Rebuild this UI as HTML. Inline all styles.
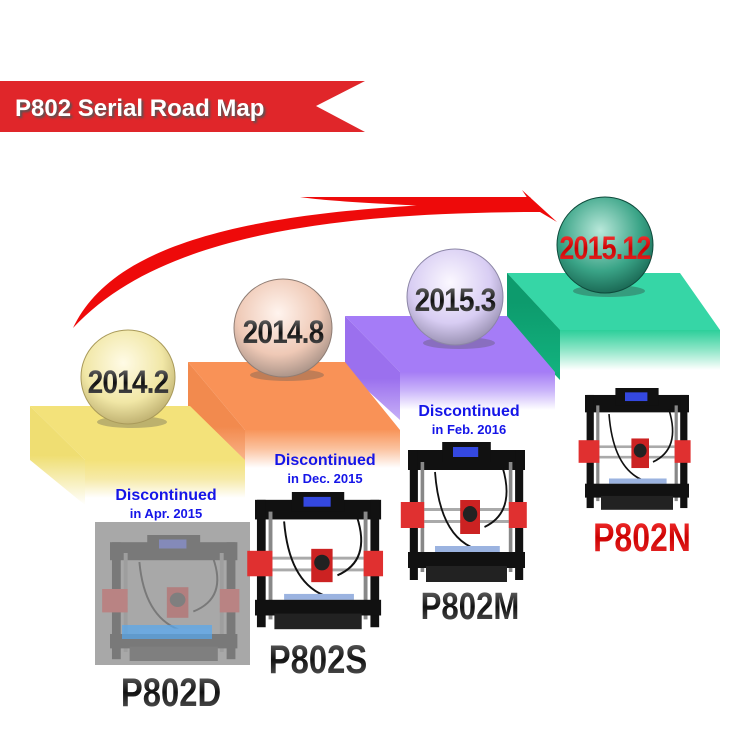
<!DOCTYPE html>
<html><head><meta charset="utf-8"><style>
html,body{margin:0;padding:0;background:#fff}
svg{display:block}
</style></head><body>
<svg width="750" height="750" viewBox="0 0 750 750" xmlns="http://www.w3.org/2000/svg">
<defs>
<linearGradient id="fy" x1="0" y1="0" x2="0" y2="1"><stop offset="0" stop-color="#f3e27a"/><stop offset="0.5" stop-color="#f6eaa8"/><stop offset="1" stop-color="#fff"/></linearGradient>
<linearGradient id="fo" x1="0" y1="0" x2="0" y2="1"><stop offset="0" stop-color="#f8955a"/><stop offset="0.5" stop-color="#fbc3a0"/><stop offset="1" stop-color="#fff"/></linearGradient>
<linearGradient id="fp" x1="0" y1="0" x2="0" y2="1"><stop offset="0" stop-color="#a57df5"/><stop offset="0.5" stop-color="#cbb6fa"/><stop offset="1" stop-color="#fff"/></linearGradient>
<linearGradient id="fg" x1="0" y1="0" x2="0" y2="1"><stop offset="0" stop-color="#2ccf9a"/><stop offset="0.5" stop-color="#8fe6c8"/><stop offset="1" stop-color="#fff"/></linearGradient>
<linearGradient id="ly" x1="0" y1="0" x2="0" y2="1"><stop offset="0.5" stop-color="#efde72"/><stop offset="1" stop-color="#fff"/></linearGradient>
<linearGradient id="lo" x1="0" y1="0" x2="0" y2="1"><stop offset="0.6" stop-color="#f28a4e"/><stop offset="1" stop-color="#fbc09b"/></linearGradient>
<linearGradient id="lp" x1="0" y1="0" x2="0" y2="1"><stop offset="0.6" stop-color="#9b70ee"/><stop offset="1" stop-color="#c7b0f7"/></linearGradient>
<linearGradient id="lg" x1="0" y1="0" x2="0" y2="1"><stop offset="0.3" stop-color="#0d9b6d"/><stop offset="1" stop-color="#12b27e"/></linearGradient>
<radialGradient id="by" cx="0.45" cy="0.35" r="0.7"><stop offset="0" stop-color="#fffbe6"/><stop offset="0.6" stop-color="#f1e7a6"/><stop offset="1" stop-color="#b7a868"/></radialGradient>
<radialGradient id="bo" cx="0.45" cy="0.35" r="0.7"><stop offset="0" stop-color="#fff4ee"/><stop offset="0.6" stop-color="#efc9b6"/><stop offset="1" stop-color="#9e8a80"/></radialGradient>
<radialGradient id="bp" cx="0.45" cy="0.35" r="0.7"><stop offset="0" stop-color="#fbf8ff"/><stop offset="0.6" stop-color="#d8cdf3"/><stop offset="1" stop-color="#8f87a8"/></radialGradient>
<radialGradient id="bg" cx="0.45" cy="0.35" r="0.7"><stop offset="0" stop-color="#b9e8da"/><stop offset="0.6" stop-color="#3aa487"/><stop offset="1" stop-color="#155f4c"/></radialGradient>
<linearGradient id="gt" x1="0" y1="0" x2="0" y2="1"><stop offset="0" stop-color="#777"/><stop offset="0.5" stop-color="#111"/><stop offset="1" stop-color="#666"/></linearGradient>
<linearGradient id="rt" x1="0" y1="0" x2="0" y2="1"><stop offset="0" stop-color="#ff4040"/><stop offset="0.5" stop-color="#c00"/><stop offset="1" stop-color="#e33"/></linearGradient>
<g id="pr">
 <rect x="0" y="8" width="130" height="20" fill="#111"/>
 <rect x="38" y="0" width="54" height="20" fill="#111"/>
 <rect x="50" y="5" width="28" height="10" fill="#3448e0"/>
 <rect x="2" y="8" width="9" height="130" fill="#111"/>
 <rect x="119" y="8" width="9" height="130" fill="#111"/>
 <rect x="14" y="20" width="4" height="110" fill="#888"/>
 <rect x="112" y="20" width="4" height="110" fill="#888"/>
 <rect x="5" y="66" width="120" height="3" fill="#aaa"/>
 <rect x="5" y="78" width="120" height="3" fill="#aaa"/>
 <rect x="-8" y="60" width="26" height="26" fill="#e03030"/>
 <rect x="112" y="60" width="20" height="26" fill="#e03030"/>
 <rect x="58" y="58" width="22" height="34" fill="#c22"/>
 <circle cx="69" cy="72" r="8" fill="#222"/>
 <path d="M30 30 Q35 90 70 105" stroke="#111" stroke-width="2" fill="none"/>
 <path d="M105 25 Q120 70 85 85" stroke="#111" stroke-width="2" fill="none"/>
 <rect x="30" y="104" width="72" height="6" fill="#9bb3e0"/>
 <rect x="0" y="110" width="130" height="16" fill="#111"/>
 <rect x="20" y="124" width="90" height="16" fill="#222"/>
</g>
</defs>

<!-- banner -->
<polygon points="0,81 365,81 316,106 365,132 0,132" fill="#e0262a"/>
<text x="15" y="116" font-family="Liberation Sans, sans-serif" font-weight="bold" font-size="24" fill="#fff" style="text-shadow:2px 2px 2px #555">P802 Serial Road Map</text>

<!-- swoosh arrow -->
<path d="M73 328 C110 250 230 205 530 202 L522 190 L557 222 L540 212 C300 212 150 245 73 328 Z" fill="#ee0a0a"/>
<path d="M300 197 L530 197 L540 212 C420 205 340 203 300 197 Z" fill="#ee0a0a"/>

<!-- green step -->
<polygon points="507,273 680,273 720,330 560,330" fill="#36d6a6"/>
<polygon points="507,273 560,330 560,380 507,325" fill="url(#lg)"/>
<rect x="560" y="330" width="160" height="40" fill="url(#fg)"/>
<!-- purple step -->
<polygon points="345,316 510,316 555,372 400,372" fill="#a57cf7"/>
<polygon points="345,316 400,372 400,420 345,370" fill="url(#lp)"/>
<rect x="400" y="372" width="155" height="38" fill="url(#fp)"/>
<polygon points="507,316 555,372 560,372 560,330 507,273" fill="url(#lg)"/>
<!-- orange step -->
<polygon points="188,362 345,362 400,430 245,430" fill="#f99257"/>
<polygon points="188,362 245,430 245,470 188,420" fill="url(#lo)"/>
<rect x="245" y="430" width="155" height="38" fill="url(#fo)"/>
<!-- yellow step -->
<polygon points="30,406 190,406 245,460 85,460" fill="#f3e27a"/>
<polygon points="30,406 85,460 85,505 30,460" fill="url(#ly)"/>
<rect x="85" y="460" width="160" height="38" fill="url(#fy)"/>

<!-- balls -->
<ellipse cx="132" cy="422" rx="35" ry="6" fill="#555" opacity="0.35"/>
<circle cx="128" cy="377" r="47" fill="url(#by)" stroke="#a99a5a" stroke-width="1"/>
<ellipse cx="287" cy="375" rx="37" ry="6" fill="#555" opacity="0.35"/>
<circle cx="283" cy="328" r="49" fill="url(#bo)" stroke="#8f7d74" stroke-width="1"/>
<ellipse cx="459" cy="343" rx="36" ry="6" fill="#555" opacity="0.35"/>
<circle cx="455" cy="297" r="48" fill="url(#bp)" stroke="#8c86a6" stroke-width="1"/>
<ellipse cx="609" cy="291" rx="36" ry="6" fill="#333" opacity="0.35"/>
<circle cx="605" cy="245" r="48" fill="url(#bg)" stroke="#0d4a3b" stroke-width="1"/>

<g font-family="Liberation Sans, sans-serif" font-weight="bold" text-anchor="middle" style="letter-spacing:-1px">
<text x="128" y="393" font-size="32" fill="url(#gt)" transform="translate(128 0) scale(0.88 1) translate(-128 0)">2014.2</text>
<text x="283" y="343" font-size="32" fill="url(#gt)" transform="translate(283 0) scale(0.88 1) translate(-283 0)">2014.8</text>
<text x="455" y="311" font-size="32" fill="url(#gt)" transform="translate(455 0) scale(0.88 1) translate(-455 0)">2015.3</text>
<text x="605" y="259" font-size="32" fill="url(#rt)" transform="translate(605 0) scale(0.84 1) translate(-605 0)">2015.12</text>
</g>

<!-- discontinued labels -->
<g font-family="Liberation Sans, sans-serif" font-weight="bold" text-anchor="middle" fill="#1515e8">
<text x="166" y="500" font-size="16">Discontinued</text>
<text x="166" y="518" font-size="13">in Apr. 2015</text>
<text x="325" y="465" font-size="16">Discontinued</text>
<text x="325" y="483" font-size="13">in Dec. 2015</text>
<text x="469" y="416" font-size="16">Discontinued</text>
<text x="469" y="434" font-size="13">in Feb. 2016</text>
</g>

<!-- printers -->
<rect x="95" y="522" width="155" height="143" fill="#a8a8a8"/>
<g opacity="0.3"><use href="#pr" transform="translate(110 535) scale(0.98 0.9)"/></g>
<rect x="122" y="625" width="90" height="14" fill="#55a8f0" opacity="0.7"/>
<use href="#pr" transform="translate(255 492) scale(0.97 0.98)"/>
<use href="#pr" transform="translate(408 442) scale(0.9 1.0)"/>
<use href="#pr" transform="translate(585 388) scale(0.8 0.87)"/>

<!-- model labels -->
<g font-family="Liberation Sans, sans-serif" font-weight="bold" text-anchor="middle">
<text x="171" y="706" font-size="40" fill="url(#gt)" transform="translate(171 0) scale(0.82 1) translate(-171 0)">P802D</text>
<text x="318" y="673" font-size="40" fill="url(#gt)" transform="translate(318 0) scale(0.82 1) translate(-318 0)">P802S</text>
<text x="470" y="619" font-size="38" fill="url(#gt)" transform="translate(470 0) scale(0.82 1) translate(-470 0)">P802M</text>
<text x="642" y="551" font-size="40" fill="url(#rt)" transform="translate(642 0) scale(0.8 1) translate(-642 0)">P802N</text>
</g>
</svg>
</body></html>
